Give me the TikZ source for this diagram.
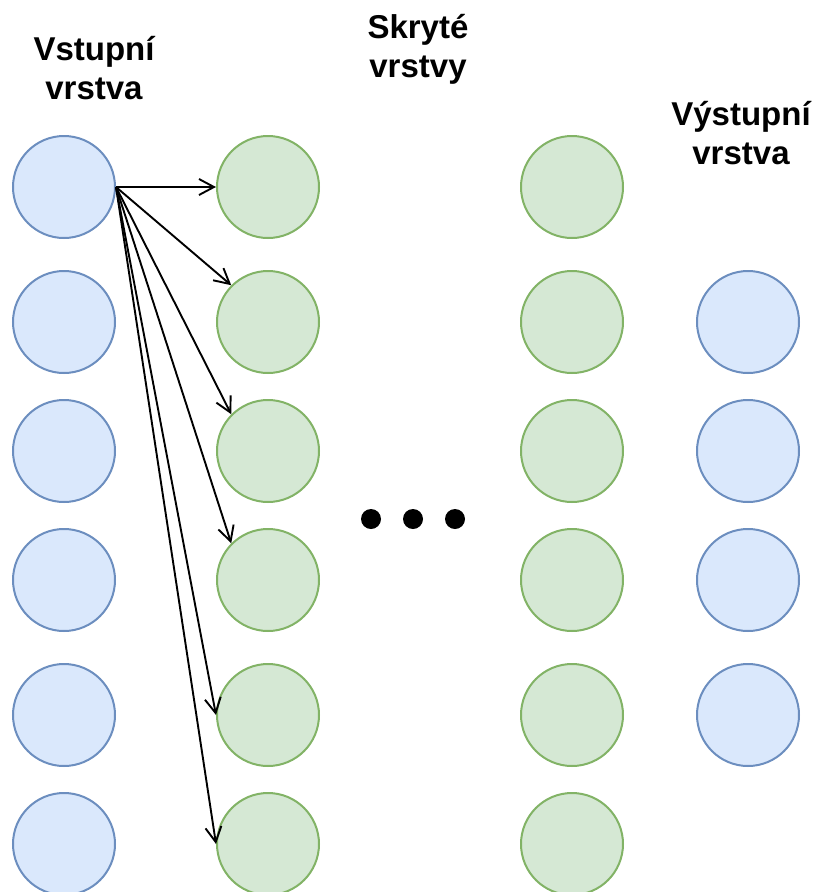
\documentclass[tikz,border=0pt]{standalone}
\usepackage{fontspec}
\setmainfont{Liberation Sans}
\usetikzlibrary{arrows.meta}

\definecolor{inFill}{HTML}{DAE8FC}
\definecolor{inLine}{HTML}{6C8EBF}
\definecolor{hidFill}{HTML}{D5E8D4}
\definecolor{hidLine}{HTML}{82B366}

\tikzset{
  neuron/.style={circle, minimum size=102pt, inner sep=0pt, line width=2pt},
  inneuron/.style={neuron, draw=inLine, fill=inFill},
  hidneuron/.style={neuron, draw=hidLine, fill=hidFill},
  outneuron/.style={neuron, draw=inLine, fill=inFill},
  layertitle/.style={font=\bfseries\fontsize{33}{39}\selectfont, align=center, inner sep=0pt, anchor=base},
  link/.style={line width=1.9pt, -{Straight Barb[length=15pt,width=16pt,line width=1.9pt]}},
  dot/.style={circle, fill=black, minimum size=20pt, inner sep=0pt}
}

\begin{document}
\begin{tikzpicture}[x=1pt,y=-1pt]
  \useasboundingbox (0,0) rectangle (814,892);

  % layer titles (anchored at the baseline of the second line)
  \node[layertitle] (tIn) at (94,99) {Vstupní\\vrstva};
  \node[layertitle] (tHid) at (418,77) {Skryté\\vrstvy};
  \node[layertitle] (tOut) at (741,164) {Výstupní\\vrstva};

  % input layer
  \foreach \k/\y in {1/187,2/322,3/451,4/580,5/715,6/844}
    \node[inneuron] (i\k) at (64,\y) {};

  % first hidden layer
  \foreach \k/\y in {1/187,2/322,3/451,4/580,5/715,6/844}
    \node[hidneuron] (h\k) at (268,\y) {};

  % last hidden layer
  \foreach \k/\y in {1/187,2/322,3/451,4/580,5/715,6/844}
    \node[hidneuron] (g\k) at (572,\y) {};

  % output layer
  \foreach \k/\y in {1/322,2/451,3/580,4/715}
    \node[outneuron] (o\k) at (748,\y) {};

  % ellipsis between hidden layers
  \node[dot] (d1) at (371,519) {};
  \node[dot] (d2) at (413,519) {};
  \node[dot] (d3) at (455,519) {};

  % connections from the first input neuron
  \draw[link] (i1.east) -- (h1.west);
  \draw[link] (i1.east) -- (h2.north west);
  \draw[link] (i1.east) -- (h3.north west);
  \draw[link] (i1.east) -- (h4.north west);
  \draw[link] (i1.east) -- (h5.west);
  \draw[link] (i1.east) -- (h6.west);
\end{tikzpicture}
\end{document}
